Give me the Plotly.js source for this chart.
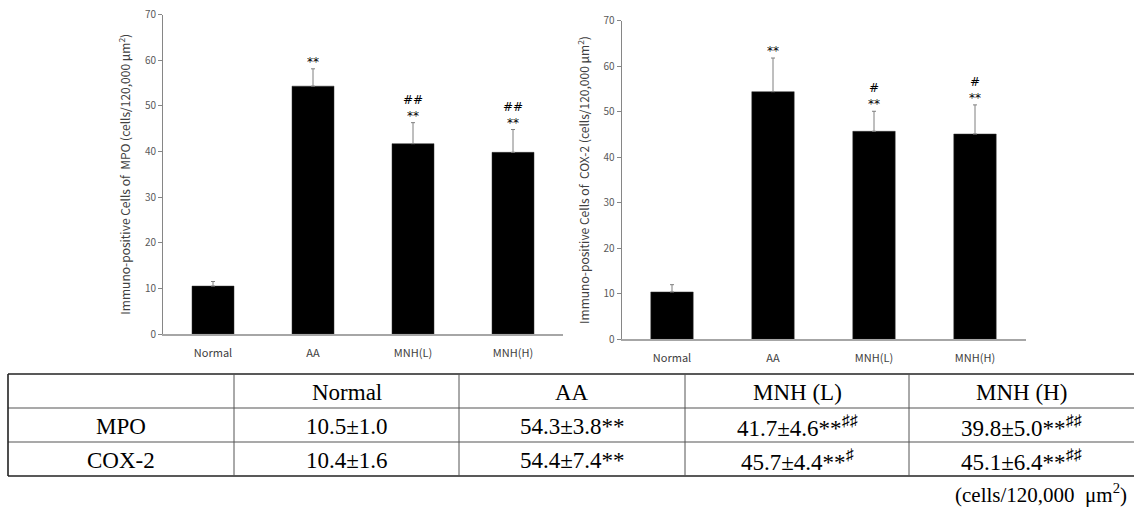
<!DOCTYPE html>
<html>
<head>
<meta charset="utf-8">
<script src="https://cdn.plot.ly/plotly-3.0.1.min.js"></script>
<style>html,body{margin:0;padding:0;background:#fff;}#chart{width:1134px;height:507px;}</style>
</head>
<body>
<div id="chart"></div>
<script>
// ---- data ----
const categories = ['Normal', 'AA', 'MNH(L)', 'MNH(H)'];
const mpoMean = [10.5, 54.3, 41.7, 39.8];
const mpoSd = [1.0, 3.8, 4.6, 5.0];
const cox2Mean = [10.4, 54.4, 45.7, 45.1];
const cox2Sd = [1.6, 7.4, 4.4, 6.4];
const mpoChartMarks = ['', '**', '##<br>**', '##<br>**'];
const cox2ChartMarks = ['', '**', '#<br>**', '#<br>**'];
const yTickVals = [0, 10, 20, 30, 40, 50, 60, 70];
const mpoYTitle = 'Immuno-positive Cells of  MPO (cells/120,000 μm<sup>2</sup>)';
const cox2YTitle = 'Immuno-positive Cells of  COX-2 (cells/120,000 μm<sup>2</sup>)';
const tableHeaders = ['', 'Normal', 'AA', 'MNH (L)', 'MNH (H)'];
const tableRowNames = ['MPO', 'COX-2'];
const mpoTableStars = ['', '**', '**', '**'];
const mpoTableSharps = ['', '', '♯♯', '♯♯'];
const cox2TableStars = ['', '**', '**', '**'];
const cox2TableSharps = ['', '', '♯', '♯♯'];
const unitLabel = '(cells/120,000  μm<sup>2</sup>)';

// ---- layout helpers (pixel -> paper) ----
const W = 1134, H = 507;
const px = v => v / W;
const py = v => 1 - v / H;

const sansFont = 'Noto Sans CJK KR, Noto Sans, sans-serif';
const markFont = 'DejaVu Sans, sans-serif';
const serifFont = 'Liberation Serif, DejaVu Serif, serif';

function barTrace(mean, sd, xa, ya) {
  return {
    type: 'bar', x: categories, y: mean, xaxis: xa, yaxis: ya,
    width: 0.42,
    marker: {color: '#000000', line: {color: '#333333', width: 0.5}},
    error_y: {type: 'data', symmetric: false, array: sd, arrayminus: sd.map(() => 0),
              color: '#7f7f7f', thickness: 1, width: 2},
    showlegend: false, hoverinfo: 'skip'
  };
}

const traces = [barTrace(mpoMean, mpoSd, 'x', 'y'), barTrace(cox2Mean, cox2Sd, 'x2', 'y2')];

function yAxis(domain, title, anchor) {
  return {
    domain: domain, range: [0, 70], tickvals: yTickVals, anchor: anchor,
    showline: true, linecolor: '#868686', linewidth: 1,
    ticks: 'outside', ticklen: 4, tickcolor: '#868686', tickwidth: 1,
    showgrid: false, zeroline: false,
    tickfont: {family: sansFont, size: 10, color: '#595959'},
    title: {text: title, font: {family: sansFont, size: 12, color: '#404040'}, standoff: 11}
  };
}
function xAxis(domain, anchor) {
  return {
    domain: domain, range: [-0.5, 3.5], anchor: anchor, type: 'category',
    showline: true, linecolor: '#a6a6a6', linewidth: 1.5,
    ticks: '', showgrid: false, zeroline: false,
    tickfont: {family: sansFont, size: 11, color: '#404040'},
    ticklabelstandoff: 8
  };
}

const annotations = [];
function addMarks(marks, mean, sd, xr, yr) {
  marks.forEach((t, i) => {
    if (!t) return;
    annotations.push({
      x: categories[i], y: mean[i] + sd[i], xref: xr, yref: yr,
      text: t, showarrow: false, yanchor: 'bottom', xanchor: 'center', yshift: -2,
      font: {family: markFont, size: 12, color: '#000000'}
    });
  });
}
addMarks(mpoChartMarks, mpoMean, mpoSd, 'x', 'y');
addMarks(cox2ChartMarks, cox2Mean, cox2Sd, 'x2', 'y2');

// ---- table ----
const colEdges = [8, 234, 459, 685, 909, 1134];
const rowEdges = [374, 408, 442, 476];
const shapes = [];
const dark = {color: '#222222', width: 1.6};
const grayH = {color: '#8c8c8c', width: 1.6};
const grayV = {color: '#555555', width: 1};
shapes.push({type: 'line', xref: 'paper', yref: 'paper', x0: px(colEdges[0]), x1: px(W), y0: py(rowEdges[0]), y1: py(rowEdges[0]), line: dark});
shapes.push({type: 'line', xref: 'paper', yref: 'paper', x0: px(colEdges[0]), x1: px(W), y0: py(rowEdges[3]), y1: py(rowEdges[3]), line: dark});
[1, 2].forEach(r => shapes.push({type: 'line', xref: 'paper', yref: 'paper', x0: px(colEdges[0]), x1: px(W), y0: py(rowEdges[r]), y1: py(rowEdges[r]), line: grayH}));
shapes.push({type: 'line', xref: 'paper', yref: 'paper', x0: px(colEdges[0]), x1: px(colEdges[0]), y0: py(rowEdges[0]), y1: py(rowEdges[3]), line: dark});
[1, 2, 3, 4].forEach(c => shapes.push({type: 'line', xref: 'paper', yref: 'paper', x0: px(colEdges[c]), x1: px(colEdges[c]), y0: py(rowEdges[0]), y1: py(rowEdges[3]), line: grayV}));

function cellText(text, col, row) {
  annotations.push({
    xref: 'paper', yref: 'paper',
    x: px((colEdges[col] + colEdges[col + 1]) / 2),
    y: py((rowEdges[row] + rowEdges[row + 1]) / 2 + 1),
    text: text, showarrow: false, xanchor: 'center', yanchor: 'middle',
    font: {family: serifFont, size: 23, color: '#000000'}
  });
}
tableHeaders.forEach((h, c) => { if (h) cellText(h, c, 0); });
const fmt = (m, s, st, sh) => m.toFixed(1) + '±' + s.toFixed(1) + st + (sh ? '<sup>' + sh + '</sup>' : '');
cellText(tableRowNames[0], 0, 1);
cellText(tableRowNames[1], 0, 2);
mpoMean.forEach((m, i) => cellText(fmt(m, mpoSd[i], mpoTableStars[i], mpoTableSharps[i]), i + 1, 1));
cox2Mean.forEach((m, i) => cellText(fmt(m, cox2Sd[i], cox2TableStars[i], cox2TableSharps[i]), i + 1, 2));
annotations.push({
  xref: 'paper', yref: 'paper', x: px(1129), y: py(493), xanchor: 'right', yanchor: 'middle',
  text: unitLabel, showarrow: false, font: {family: serifFont, size: 21, color: '#000000'}
});

const layout = {
  width: W, height: H,
  margin: {l: 0, r: 0, t: 0, b: 0},
  paper_bgcolor: '#ffffff', plot_bgcolor: '#ffffff',
  showlegend: false, bargap: 0.5,
  xaxis: xAxis([px(163), px(563)], 'y'),
  yaxis: yAxis([py(334), py(14.5)], mpoYTitle, 'x'),
  xaxis2: xAxis([px(621.5), px(1025.5)], 'y2'),
  yaxis2: yAxis([py(339.3), py(20.7)], cox2YTitle, 'x2'),
  annotations: annotations,
  shapes: shapes
};

Plotly.newPlot('chart', traces, layout, {displayModeBar: false, staticPlot: true});
</script>
</body>
</html>
